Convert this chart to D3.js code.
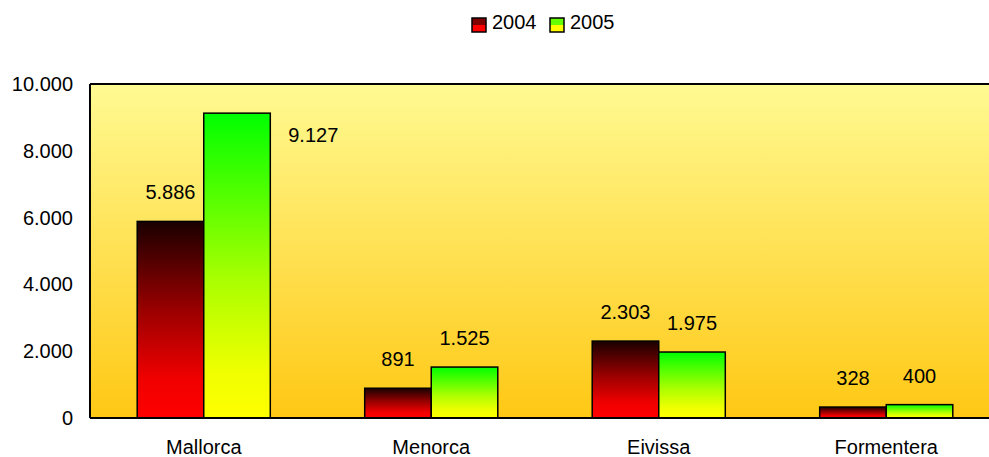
<!DOCTYPE html>
<html><head><meta charset="utf-8">
<script src="https://cdn.jsdelivr.net/npm/d3@7"></script>
<style>body{margin:0;background:#fff}svg{display:block;font-family:"Liberation Sans",Arial,sans-serif}</style>
</head><body><svg id="c" width="989" height="457"></svg>
<script>
const categories = ["Mallorca", "Menorca", "Eivissa", "Formentera"];
const seriesNames = ["2004", "2005"];
const values2004 = [5886, 891, 2303, 328];
const values2005 = [9127, 1525, 1975, 400];
const yTicks = [0, 2000, 4000, 6000, 8000, 10000];

const svg = d3.select("#c");
const m = {l: 90, t: 84, r: 1000, b: 418};
const fmt = v => d3.formatLocale({decimal: ",", thousands: ".", grouping: [3], currency: ["", ""]}).format(",")(v);

const defs = svg.append("defs");
function grad(id, stops) {
  const g = defs.append("linearGradient").attr("id", id).attr("x1", 0).attr("y1", 0).attr("x2", 0).attr("y2", 1);
  stops.forEach(s => g.append("stop").attr("offset", s[0]).attr("stop-color", s[1]));
}
grad("bg", [[0, "#FFFA92"], [1, "#FFC814"]]);
grad("g0", [[0, "#1A0000"], [0.45, "#9A0000"], [0.8, "#F00000"], [1, "#FF0000"]]);
grad("g1", [[0, "#00FF00"], [0.55, "#AAFF00"], [0.85, "#F0FF00"], [1, "#FFFF00"]]);
grad("l0", [[0, "#800000"], [0.5, "#800000"], [0.5, "#FF0000"], [1, "#FF0000"]]);
grad("l1", [[0, "#66FF00"], [0.5, "#66FF00"], [0.5, "#FFFF00"], [1, "#FFFF00"]]);

const x = d3.scaleBand().domain(categories).range([m.l, m.r]).paddingInner(0.415).paddingOuter(0.2075);
const xs = d3.scaleBand().domain(seriesNames).range([0, x.bandwidth()]);
const y = d3.scaleLinear().domain([0, 10000]).range([m.b, m.t]);

svg.append("rect").attr("x", m.l).attr("y", m.t).attr("width", m.r - m.l).attr("height", m.b - m.t).attr("fill", "url(#bg)");

const data = categories.map((c, i) => ({c, vals: [values2004[i], values2005[i]]}));
const fills = ["url(#g0)", "url(#g1)"];
const g = svg.append("g");
data.forEach(d => {
  d.vals.forEach((v, k) => {
    const bx = x(d.c) + xs(seriesNames[k]);
    g.append("rect").attr("x", bx).attr("y", y(v)).attr("width", xs.bandwidth()).attr("height", y(0) - y(v))
      .attr("fill", fills[k]).attr("stroke", "#000").attr("stroke-width", 1.5);
    let lx = bx + xs.bandwidth() / 2, ly = y(v) - 22;
    if (ly - 20 < m.t) { lx = bx + xs.bandwidth() + 43; ly = y(v) + 29; }
    g.append("text").attr("x", lx).attr("y", ly).attr("text-anchor", "middle").attr("font-size", 20).attr("fill", "#000").text(fmt(v));
  });
});

// axes lines
svg.append("line").attr("x1", m.l).attr("x2", m.r).attr("y1", m.t).attr("y2", m.t).attr("stroke", "#000").attr("stroke-width", 2);
svg.append("line").attr("x1", m.l).attr("x2", m.l).attr("y1", m.t).attr("y2", m.b).attr("stroke", "#000").attr("stroke-width", 2);
svg.append("line").attr("x1", m.l).attr("x2", m.r).attr("y1", m.b).attr("y2", m.b).attr("stroke", "#000").attr("stroke-width", 2);

const ya = svg.append("g").attr("transform", `translate(${m.l},0)`)
  .call(d3.axisLeft(y).tickValues(yTicks).tickFormat(fmt).tickSize(0).tickPadding(17));
ya.select(".domain").remove();
ya.selectAll("text").attr("font-size", 20).attr("fill", "#000").attr("font-family", "Liberation Sans, Arial, sans-serif");

const xa = svg.append("g").attr("transform", `translate(0,${m.b})`)
  .call(d3.axisBottom(x).tickSize(0).tickPadding(22));
xa.select(".domain").remove();
xa.selectAll("text").attr("font-size", 20).attr("fill", "#000").attr("font-family", "Liberation Sans, Arial, sans-serif");

// legend
const lg = svg.append("g");
const lpos = [472, 550];
seriesNames.forEach((s, k) => {
  lg.append("rect").attr("x", lpos[k]).attr("y", 18).attr("width", 14).attr("height", 14)
    .attr("fill", k === 0 ? "url(#l0)" : "url(#l1)").attr("stroke", "#000").attr("stroke-width", 1.5);
  lg.append("text").attr("x", lpos[k] + 20).attr("y", 29).attr("font-size", 20).attr("fill", "#000").text(s);
});
</script></body></html>
